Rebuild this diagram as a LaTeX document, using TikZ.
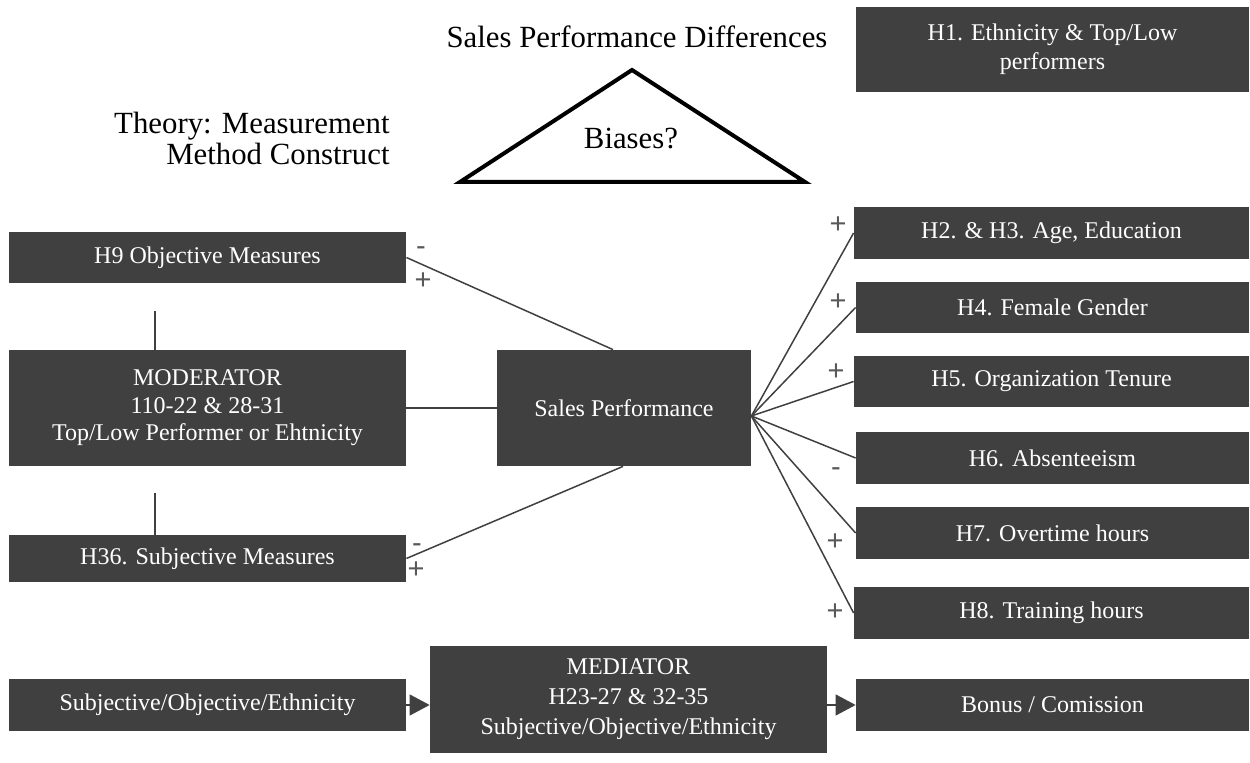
\documentclass[tikz,border=0pt]{standalone}
\usepackage{fontspec}
\setmainfont{Liberation Serif}
\newfontfamily\signfont{Liberation Sans}
\usetikzlibrary{arrows.meta,calc}
\definecolor{boxgray}{HTML}{404040}
\definecolor{signgray}{HTML}{595959}
\begin{document}
\begin{tikzpicture}[x=0.5pt,y=-0.5pt,
  hbox/.style={fill=boxgray,text=white,inner sep=0pt,align=center,
    font=\fontsize{12}{13.8}\selectfont},
  link/.style={draw=boxgray,line width=0.75pt},
  flow/.style={link,-{Triangle[length=10pt,width=10.5pt]}},
  sign/.style={text=signgray,inner sep=0pt,font=\signfont\fontsize{14.5}{15}\selectfont},
  caption/.style={inner sep=0pt,font=\fontsize{15.4}{15.5}\selectfont}]
\useasboundingbox (0,0) rectangle (1250,763);

% headings and the bias triangle
\node[caption] (title) at (637,37) {Sales Performance Differences};
\node[caption,align=right,anchor=east] (theory) at (390,138)
  {Theory: Measurement\\Method Construct};
\draw[line width=2pt,line join=miter] (632,70) -- (460,182) -- (805,182) -- cycle;
\node[caption] (bias) at (631,139) {Biases?};

% boxes
\node[hbox,minimum width=196.5pt,minimum height=42.5pt,font=\fontsize{12}{14.5}\selectfont]
  (h1) at (1052.5,49.5) {H1. Ethnicity \& Top/Low\\performers};
\node[hbox,minimum width=198.5pt,minimum height=25.5pt] (h9) at (207.5,257.5) {H9 Objective Measures};
\node[hbox,minimum width=198.5pt,minimum height=58pt] (mod) at (207.5,408)
  {MODERATOR\\110-22 \& 28-31\\Top/Low Performer or Ehtnicity\hspace{7pt}};
\node[hbox,minimum width=198.5pt,minimum height=23.5pt] (h36) at (207.5,558.5) {H36. Subjective Measures};
\node[hbox,minimum width=127pt,minimum height=58pt] (sp) at (624,408) {Sales Performance};
\node[hbox,minimum width=197.5pt,minimum height=26pt] (h2) at (1051.5,233) {H2. \& H3. Age, Education};
\node[hbox,minimum width=196.5pt,minimum height=25.5pt] (h4) at (1052.5,307.5) {H4. Female Gender};
\node[hbox,minimum width=197.5pt,minimum height=25.5pt] (h5) at (1051.5,381.5) {H5. Organization Tenure};
\node[hbox,minimum width=196.5pt,minimum height=26pt] (h6) at (1052.5,458) {H6. Absenteeism};
\node[hbox,minimum width=196.5pt,minimum height=26pt] (h7) at (1052.5,533) {H7. Overtime hours};
\node[hbox,minimum width=197.5pt,minimum height=26pt] (h8) at (1051.5,613) {H8. Training hours};
\node[hbox,minimum width=198.5pt,minimum height=26pt] (subj) at (207.5,705) {Subjective/Objective/Ethnicity};
\node[hbox,minimum width=198.5pt,minimum height=53.5pt,font=\fontsize{12}{15}\selectfont]
  (med) at (628.5,699.5) {MEDIATOR\\H23-27 \& 32-35\\Subjective/Objective/Ethnicity};
\node[hbox,minimum width=196.5pt,minimum height=26pt] (bonus) at (1052.5,705) {Bonus / Comission};

% moderator links
\coordinate (m1) at (155,311);
\coordinate (m2) at (155,493);
\draw[link] (m1) -- (m1 |- mod.north);
\draw[link] (m2) -- (m2 |- h36.north);
\draw[link] (mod.east) -- (sp.west);
\draw[link] (h9.east) -- ($(sp.north)+(-11,0)$);
\draw[link] (h36.east) -- ($(sp.south)+(-1,0)$);

% fan of predictors
\coordinate (fan) at ($(sp.east)+(0,8)$);
\foreach \t in {h2,h4,h5,h6,h7,h8}
  \draw[link] (fan) -- (\t.west);

% mediation chain
\draw[flow] (subj.east) -- (subj.east -| med.west);
\draw[flow] (med.east |- bonus.west) -- (bonus.west);

% signs
\node[sign] (s9m) at (421,251) {-};
\node[sign] (s9p) at (423,281) {+};
\node[sign] (s36m) at (417,548) {-};
\node[sign] (s36p) at (416,570) {+};
\node[sign] (s2) at (838,225) {+};
\node[sign] (s4) at (838,302) {+};
\node[sign] (s5) at (836,372) {+};
\node[sign] (s6) at (836,472) {-};
\node[sign] (s7) at (835,542) {+};
\node[sign] (s8) at (835,612) {+};
\end{tikzpicture}
\end{document}
